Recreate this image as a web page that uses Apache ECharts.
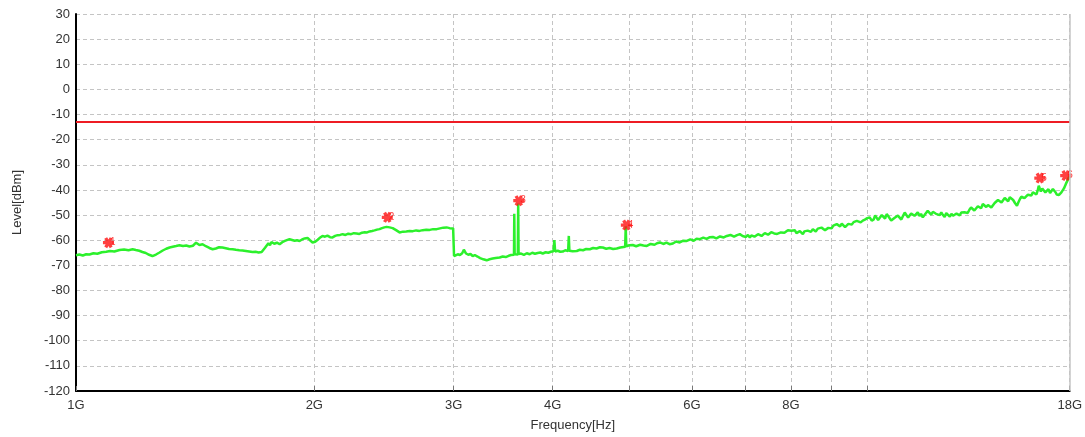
<!DOCTYPE html>
<html><head><meta charset="utf-8">
<script src="https://cdn.jsdelivr.net/npm/echarts@6/dist/echarts.min.js"></script>
<style>html,body{margin:0;padding:0;background:#fff}#c{width:1085px;height:437px}</style>
</head><body><div id="c"></div>
<script>
// Frequencies in GHz, levels in dBm
const traceFreq = [
1.000,1.010,1.020,1.030,1.040,1.052,1.064,1.078,1.092,1.104,
1.118,1.135,1.150,1.165,1.179,1.190,1.202,1.213,1.225,1.237,
1.249,1.262,1.275,1.287,1.300,1.313,1.325,1.338,1.351,1.365,
1.378,1.391,1.405,1.418,1.432,1.445,1.459,1.474,1.488,1.502,
1.516,1.531,1.546,1.561,1.577,1.592,1.608,1.623,1.639,1.655,
1.671,1.686,1.701,1.716,1.725,1.733,1.741,1.750,1.758,1.766,
1.780,1.794,1.808,1.822,1.836,1.850,1.861,1.875,1.889,1.902,
1.916,1.930,1.945,1.961,1.975,1.990,2.005,
2.020,2.035,2.048,2.063,2.078,2.094,2.109,2.125,2.140,2.156,
2.172,2.190,2.208,2.226,2.244,2.262,2.280,2.298,2.316,2.332,
2.349,2.366,2.383,2.400,2.418,2.435,2.452,2.468,2.490,2.512,
2.537,2.563,2.588,2.613,2.639,2.664,2.690,2.716,2.741,2.770,
2.798,2.826,2.855,2.883,2.911,2.939,2.965,2.995,3.003,
3.015,3.035,3.055,3.075,3.090,3.110,3.130,3.150,3.170,3.190,
3.215,3.240,3.270,3.302,3.330,3.360,3.390,3.429,3.460,3.490,
3.520,3.545,3.575,3.578,3.582,3.615,3.619,3.623,3.650,3.680,
3.710,3.742,3.770,3.800,3.830,3.860,3.887,3.920,3.950,3.980,
4.010,4.020,4.030,4.060,4.090,4.120,4.150,4.185,4.193,4.200,
4.240,4.291,4.330,4.370,4.410,4.457,4.500,4.545,4.590,4.628,
4.675,4.720,4.770,4.820,4.870,4.940,4.948,4.956,5.000,5.050,
5.100,5.160,5.210,5.261,5.320,5.380,5.420,5.464,5.520,5.570,
5.620,5.675,5.730,5.790,5.850,5.910,5.970,6.030,6.080,6.138,
6.200,6.260,6.320,6.375,6.440,6.510,6.580,6.640,6.710,6.780,
6.840,6.896,6.950,
7.020,7.060,7.099,7.130,7.160,7.195,7.230,7.270,7.309,7.345,
7.380,7.415,7.450,7.485,7.520,7.555,7.591,7.620,7.650,7.685,
7.720,7.770,7.815,7.850,7.890,7.930,7.976,8.010,8.050,8.090,
8.130,8.170,8.210,8.245,8.283,8.320,8.360,8.400,8.440,8.480,
8.527,8.565,8.600,8.650,8.700,8.745,8.790,8.835,8.879,8.920,
8.960,9.005,9.050,9.095,9.141,9.185,9.230,9.275,9.320,9.365,
9.412,9.455,9.500,9.550,9.600,9.645,9.690,9.745,9.800,9.860,
9.920,9.990,
10.06,10.12,10.18,10.22,10.27,10.31,10.36,10.42,10.47,10.52,
10.57,10.62,10.66,10.71,10.76,10.81,10.87,10.92,10.98,11.03,
11.09,11.14,11.20,11.25,11.30,11.35,11.40,11.46,11.52,11.57,
11.63,11.68,11.74,11.80,11.86,11.91,11.97,12.03,12.09,12.15,
12.20,12.27,12.33,12.39,12.45,12.51,12.57,12.63,12.70,12.76,
12.82,12.88,12.95,13.01,13.07,13.13,13.19,13.25,13.32,13.38,
13.45,13.51,13.58,13.64,13.71,13.78,13.85,13.91,13.98,14.05,
14.12,14.19,14.26,14.33,14.40,14.47,14.54,14.61,14.69,14.76,
14.83,14.90,14.98,15.05,15.12,15.20,15.27,15.35,15.44,15.51,
15.58,15.64,15.71,15.78,15.86,15.94,16.02,16.10,16.17,16.25,
16.34,16.40,16.45,16.50,16.55,16.62,16.70,16.77,16.84,16.92,
17.00,17.07,17.14,17.21,17.28,17.33,17.39,17.45,17.50,17.57,
17.64,17.70,17.75,17.80,17.85,17.90,17.95,18.00
];
const traceLevel = [
-66.0,-65.7,-66.1,-65.6,-65.7,-65.2,-65.4,-64.8,-64.6,-64.3,
-64.5,-63.9,-63.7,-64.0,-63.6,-63.9,-64.2,-64.7,-65.1,-65.8,
-66.3,-65.7,-64.9,-64.1,-63.4,-62.9,-62.6,-62.3,-62.0,-62.3,
-62.1,-62.5,-62.2,-61.0,-61.9,-61.6,-62.4,-63.1,-63.6,-63.3,
-62.8,-62.9,-63.2,-63.5,-63.6,-63.8,-64.0,-64.1,-64.3,-64.5,
-64.7,-64.6,-64.9,-64.7,-63.8,-63.0,-62.3,-61.2,-62.0,-60.7,
-61.4,-61.0,-61.6,-60.8,-60.3,-59.9,-59.6,-59.9,-60.2,-60.0,
-60.3,-59.7,-59.3,-59.1,-60.0,-60.9,-60.6,
-59.8,-58.9,-58.3,-58.6,-58.2,-58.8,-58.9,-58.3,-58.0,-57.9,
-57.6,-57.9,-57.4,-57.6,-57.2,-57.3,-57.5,-57.0,-56.8,-56.9,
-56.5,-56.3,-56.1,-55.8,-55.6,-55.2,-54.9,-54.7,-54.9,-55.2,
-56.0,-56.9,-56.6,-56.5,-56.3,-56.4,-56.1,-56.3,-56.0,-55.8,
-55.9,-55.6,-55.6,-55.3,-55.0,-54.9,-55.2,-55.3,-66.3,
-66.0,-65.6,-65.9,-65.2,-63.8,-65.3,-65.8,-65.5,-66.3,-65.9,
-66.5,-67.1,-67.6,-68.0,-67.6,-67.3,-67.1,-66.9,-66.5,-66.7,
-66.2,-65.9,-65.8,-49.5,-65.6,-65.7,-45.4,-65.5,-65.3,-65.8,
-65.2,-65.6,-65.0,-65.4,-65.1,-64.9,-65.3,-64.8,-65.0,-64.6,
-64.4,-60.0,-64.5,-64.2,-64.6,-64.5,-64.0,-64.3,-58.3,-64.2,
-64.4,-64.3,-63.8,-64.0,-63.5,-63.6,-63.1,-63.3,-62.8,-62.9,
-63.4,-63.1,-63.5,-63.3,-62.9,-62.6,-54.5,-62.4,-62.0,-61.9,
-62.4,-61.8,-62.1,-62.3,-61.5,-61.8,-61.2,-60.9,-61.5,-61.0,
-61.6,-61.3,-60.5,-60.9,-60.2,-60.3,-59.7,-60.2,-59.4,-59.6,
-59.0,-59.5,-58.8,-58.7,-59.3,-58.5,-58.9,-58.3,-57.9,-58.6,
-58.0,-57.6,-58.3,
-58.7,-57.9,-58.9,-58.1,-57.8,-58.6,-58.2,-57.6,-57.3,-58.3,
-57.9,-57.2,-56.9,-57.8,-57.2,-56.8,-56.5,-57.3,-57.0,-57.5,
-57.8,-56.9,-57.6,-57.0,-56.5,-56.0,-55.6,-56.2,-56.6,-56.0,
-57.2,-56.8,-56.4,-57.0,-57.6,-56.5,-56.8,-56.2,-56.0,-56.7,
-55.6,-56.0,-56.5,-55.4,-55.9,-55.0,-55.2,-56.0,-55.6,-55.1,
-54.8,-55.3,-54.2,-54.7,-53.6,-54.1,-54.5,-53.4,-53.9,-54.8,
-54.3,-53.5,-53.2,-53.8,-52.8,-53.3,-52.3,-52.0,-52.9,-52.2,
-51.8,-51.2,
-50.9,-52.2,-51.7,-50.1,-50.6,-52.0,-51.3,-50.0,-50.4,-51.4,
-49.6,-50.5,-51.0,-52.2,-52.9,-51.2,-51.5,-50.2,-50.9,-51.8,
-50.2,-49.0,-49.5,-51.0,-50.3,-49.4,-48.9,-50.3,-49.8,-48.9,
-50.4,-49.5,-50.9,-50.0,-49.6,-48.3,-48.5,-49.8,-48.7,-48.0,
-49.5,-48.8,-50.0,-49.0,-50.0,-50.8,-49.2,-49.9,-50.6,-49.5,
-50.3,-51.0,-49.4,-48.8,-50.1,-49.0,-49.6,-48.9,-48.4,-49.2,
-47.8,-47.0,-46.9,-48.2,-47.5,-46.5,-46.2,-47.3,-45.6,-45.2,
-46.8,-46.0,-45.9,-47.0,-46.3,-45.2,-44.7,-44.0,-43.3,-45.0,
-44.6,-43.2,-43.6,-44.5,-42.9,-43.5,-44.0,-45.2,-46.3,-44.8,
-43.5,-42.7,-42.0,-43.3,-42.8,-41.9,-41.3,-42.2,-40.9,-41.5,
-41.8,-40.2,-38.3,-39.5,-40.6,-39.4,-39.8,-41.0,-40.3,-39.7,
-41.2,-40.4,-39.6,-40.2,-41.0,-41.8,-42.3,-42.0,-41.5,-41.0,
-40.3,-39.4,-38.5,-37.6,-36.9,-36.0,-34.9,-35.5
];
const limitFreq = [1, 18];
const limitLevel = [-13, -13];
const markerFreq = [1.099, 2.473, 3.625, 4.957, 16.50, 17.79];
const markerLevel = [-61.0, -50.9, -44.3, -54.0, -35.3, -34.3];
const markerNames = ['1', '2', '3', '4', '5', '6'];
const gridTicks = [1, 2, 3, 4, 5, 6, 7, 8, 9, 10, 18];
const labelTicks = [1, 2, 3, 4, 6, 8, 18];

const FONT = 'Liberation Sans, Arial, sans-serif';
const chart = echarts.init(document.getElementById('c'), null, {renderer: 'canvas'});
const star = 'path://M0,3.5h10v3h-10z M1.2,1.42L3.8,-0.08L8.8,8.58L6.2,10.08z M6.2,-0.08L8.8,1.42L3.8,10.08L1.2,8.58z';

chart.setOption({
  animation: false,
  backgroundColor: '#fff',
  grid: {left: 76, right: 15, top: 14, bottom: 46},
  xAxis: {
    type: 'log', logBase: 10, min: 1, max: 18,
    name: 'Frequency[Hz]', nameLocation: 'middle', nameGap: 28,
    nameTextStyle: {fontFamily: FONT, fontSize: 13, color: '#333'},
    axisLine: {show: true, onZero: false, lineStyle: {color: '#000', width: 2}},
    axisTick: {show: true, inside: true, length: 5, customValues: gridTicks, lineStyle: {color: '#777'}},
    axisLabel: {customValues: labelTicks, margin: 8, fontFamily: FONT, fontSize: 13, color: '#333',
      formatter: v => Math.round(v) + 'G'},
    splitLine: {show: true, lineStyle: {color: '#c4c4c4', type: [4, 3], width: 1}},
    minorSplitLine: {show: false}
  },
  yAxis: {
    type: 'value', min: -120, max: 30, interval: 10,
    name: 'Level[dBm]', nameLocation: 'middle', nameGap: 52,
    nameTextStyle: {fontFamily: FONT, fontSize: 13, color: '#333'},
    axisLine: {show: true, onZero: false, lineStyle: {color: '#000', width: 2}},
    axisTick: {show: false},
    axisLabel: {margin: 6, fontFamily: FONT, fontSize: 13, color: '#333'},
    splitLine: {show: true, lineStyle: {color: '#c4c4c4', type: [4, 3], width: 1}}
  },
  series: [
    {
      type: 'line', name: 'trace',
      data: traceFreq.map((f, i) => [f, traceLevel[i]]),
      showSymbol: false, symbol: 'none',
      lineStyle: {color: '#2cf02c', width: 2.5},
      z: 3
    },
    {
      type: 'line', name: 'limit',
      data: limitFreq.map((f, i) => [f, limitLevel[i]]),
      showSymbol: false, symbol: 'none',
      lineStyle: {color: '#ee1c24', width: 2},
      markLine: {
        silent: true, symbol: 'none', label: {show: false},
        lineStyle: {color: '#c4c4c4', type: 'solid', width: 1.5},
        data: [{xAxis: 18}]
      },
      z: 2
    },
    {
      type: 'scatter', name: 'markers',
      data: markerFreq.map((f, i) => [f, markerLevel[i], markerNames[i]]),
      symbol: star, symbolSize: 11,
      itemStyle: {color: '#ff1010'},
      label: {show: true, position: 'right', distance: -4, formatter: p => p.value[2],
        fontFamily: FONT, fontSize: 10, color: '#ff1010'},
      z: 4
    }
  ]
});
</script>
</body></html>
